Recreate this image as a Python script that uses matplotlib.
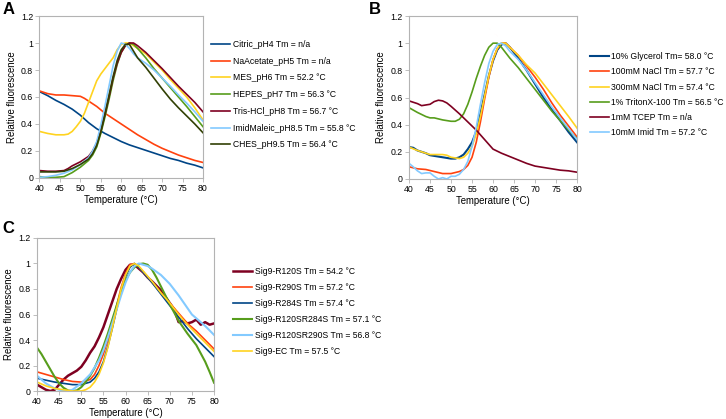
#!/usr/bin/python3

import matplotlib
matplotlib.use("Agg")
import matplotlib.pyplot as plt

plt.rcParams['font.family'] = ['Liberation Sans', 'DejaVu Sans']

# LibreOffice default chart colours
NAVY = "#004586"
RED = "#ff420e"
YELLOW = "#ffd320"
GREEN = "#579d1c"
MAROON = "#7e0021"
SKY = "#83caff"
OLIVE = "#314004"

# ---------------- panel A: buffer pH screen ----------------
citric_t = [40, 42, 44, 46, 48, 50, 52, 54, 56, 58, 60, 62, 64, 66, 68, 70, 72, 74, 76, 78, 80]
citric_f = [0.64, 0.61, 0.575, 0.545, 0.51, 0.465, 0.41, 0.365, 0.33, 0.30, 0.27, 0.245,
            0.225, 0.205, 0.185, 0.165, 0.145, 0.13, 0.11, 0.095, 0.075]

acetate_t = [40, 42, 44, 46, 48, 50, 51, 52, 54, 56, 58, 60, 62, 64, 66, 68, 70, 72, 74, 76, 78, 80]
acetate_f = [0.645, 0.625, 0.615, 0.615, 0.61, 0.605, 0.59, 0.57, 0.53, 0.48, 0.44, 0.40,
             0.36, 0.32, 0.285, 0.25, 0.22, 0.195, 0.17, 0.15, 0.13, 0.115]

mes_t = [40, 42, 44, 46, 47, 48, 49, 50, 51, 52, 53, 54, 55, 56, 57, 58, 59, 60, 61, 62,
         63, 64, 66, 68, 70, 72, 74, 76, 78, 80]
mes_f = [0.345, 0.33, 0.32, 0.32, 0.325, 0.345, 0.38, 0.42, 0.48, 0.56, 0.64, 0.72, 0.77,
         0.81, 0.85, 0.89, 0.95, 0.99, 1.0, 1.0, 0.98, 0.96, 0.92, 0.86, 0.80, 0.73, 0.665,
         0.60, 0.52, 0.43]

hepes_t = [40, 42, 44, 46, 48, 50, 52, 53, 54, 55, 56, 57, 58, 59, 60, 61, 62, 63, 64,
           66, 68, 70, 72, 74, 76, 78, 80]
hepes_f = [0.01, 0.005, 0.005, 0.01, 0.04, 0.08, 0.13, 0.17, 0.23, 0.33, 0.45, 0.58, 0.72,
           0.84, 0.93, 0.98, 1.0, 0.99, 0.96, 0.89, 0.81, 0.74, 0.67, 0.60, 0.53, 0.455, 0.38]

tris_t = [40, 42, 44, 46, 47, 48, 50, 52, 53, 54, 55, 56, 57, 58, 59, 60, 61, 62, 63, 64,
          66, 68, 70, 72, 74, 76, 78, 80]
tris_f = [0.055, 0.05, 0.05, 0.055, 0.07, 0.09, 0.12, 0.16, 0.20, 0.26, 0.35, 0.47, 0.60,
          0.74, 0.85, 0.93, 0.98, 1.0, 1.0, 0.98, 0.93, 0.87, 0.81, 0.745, 0.68, 0.62, 0.56, 0.49]

imidm_t = [40, 42, 44, 46, 48, 50, 52, 53, 54, 55, 56, 57, 58, 59, 60, 61, 62, 63, 64,
           66, 68, 70, 72, 74, 76, 78, 80]
imidm_f = [0.005, 0.01, 0.02, 0.035, 0.06, 0.10, 0.15, 0.20, 0.27, 0.39, 0.53, 0.68, 0.83,
           0.94, 1.0, 0.99, 0.96, 0.92, 0.89, 0.85, 0.80, 0.74, 0.68, 0.615, 0.555, 0.49, 0.42]

ches_t = [40, 42, 44, 46, 48, 50, 52, 53, 54, 55, 56, 57, 58, 59, 60, 61, 62, 63, 64,
          66, 68, 70, 72, 74, 76, 78, 80]
ches_f = [0.045, 0.045, 0.045, 0.05, 0.07, 0.10, 0.14, 0.18, 0.24, 0.34, 0.47, 0.61, 0.75,
          0.87, 0.95, 0.99, 0.99, 0.94, 0.89, 0.82, 0.74, 0.66, 0.585, 0.52, 0.46, 0.40, 0.335]

# ---------------- panel B: additive screen ----------------
glycerol_t = [40, 41, 42, 44, 45, 46, 48, 50, 51, 52, 53, 54, 55, 56, 57, 58, 59, 60, 61,
              62, 63, 64, 66, 68, 70, 72, 74, 76, 78, 80]
glycerol_f = [0.235, 0.23, 0.21, 0.19, 0.175, 0.17, 0.16, 0.15, 0.15, 0.16, 0.18, 0.22,
              0.27, 0.35, 0.48, 0.62, 0.76, 0.87, 0.95, 0.99, 1.0, 0.97, 0.89, 0.80, 0.70,
              0.60, 0.51, 0.43, 0.345, 0.27]

nacl100_t = [40, 42, 44, 46, 48, 50, 52, 53, 54, 55, 56, 57, 58, 59, 60, 61, 62, 63, 64,
             66, 68, 70, 72, 74, 76, 78, 80]
nacl100_f = [0.09, 0.075, 0.07, 0.055, 0.04, 0.04, 0.055, 0.07, 0.10, 0.16, 0.27, 0.42,
             0.59, 0.75, 0.88, 0.96, 1.0, 1.0, 0.97, 0.91, 0.83, 0.75, 0.66, 0.56, 0.47, 0.39, 0.31]

nacl300_t = [40, 42, 44, 45, 46, 48, 49, 50, 52, 53, 54, 55, 56, 57, 58, 59, 60, 61, 62,
             63, 64, 66, 68, 70, 71, 72, 74, 76, 78, 80]
nacl300_f = [0.235, 0.21, 0.19, 0.18, 0.18, 0.18, 0.175, 0.16, 0.15, 0.16, 0.19, 0.24,
             0.33, 0.46, 0.61, 0.76, 0.88, 0.96, 1.0, 1.0, 0.97, 0.91, 0.84, 0.78, 0.74,
             0.70, 0.62, 0.54, 0.46, 0.375]

triton_t = [40, 42, 44, 45, 46, 48, 50, 51, 52, 53, 54, 55, 56, 57, 58, 59, 60, 61, 62,
            63, 64, 66, 68, 70, 72, 74, 76, 78, 80]
triton_f = [0.525, 0.49, 0.46, 0.45, 0.45, 0.435, 0.425, 0.425, 0.44, 0.48, 0.55, 0.64,
            0.74, 0.83, 0.91, 0.97, 1.0, 1.0, 0.97, 0.93, 0.89, 0.82, 0.74, 0.66, 0.58,
            0.50, 0.43, 0.36, 0.295]

tcep_t = [40, 42, 43, 44, 45, 46, 47, 48, 49, 50, 52, 54, 56, 58, 60, 62, 64, 66, 68, 70,
          72, 74, 76, 78, 80]
tcep_f = [0.575, 0.555, 0.54, 0.545, 0.55, 0.57, 0.58, 0.575, 0.56, 0.535, 0.48, 0.42,
          0.36, 0.29, 0.22, 0.19, 0.165, 0.14, 0.115, 0.095, 0.085, 0.075, 0.065, 0.06, 0.05]

imid_t = [40, 41, 42, 43, 44, 45, 46, 47, 48, 49, 50, 51, 52, 53, 54, 55, 56, 57, 58, 59,
          60, 61, 62, 63, 64, 66, 68, 70, 72, 74, 76, 78, 80]
imid_f = [0.115, 0.09, 0.06, 0.04, 0.045, 0.045, 0.02, 0.0, 0.01, 0.0, 0.02, 0.02, 0.035,
          0.07, 0.13, 0.24, 0.38, 0.55, 0.71, 0.85, 0.94, 0.99, 1.0, 0.98, 0.94, 0.88, 0.80,
          0.71, 0.62, 0.53, 0.45, 0.37, 0.29]

# ---------------- panel C: Sig9 mutants ----------------
r120s_t = [40, 41, 42, 43, 44, 45, 46, 47, 48, 49, 50, 51, 52, 53, 54, 55, 56, 57, 58, 59,
           60, 61, 62, 63, 64, 65, 66, 68, 70, 71, 72, 73, 74, 75, 76, 77, 78, 79, 80]
r120s_f = [0.05, 0.03, 0.01, 0.0, 0.01, 0.05, 0.09, 0.12, 0.14, 0.16, 0.19, 0.24, 0.30,
           0.35, 0.42, 0.50, 0.60, 0.70, 0.80, 0.88, 0.95, 0.99, 0.99, 0.96, 0.93, 0.89,
           0.86, 0.79, 0.69, 0.64, 0.54, 0.55, 0.53, 0.54, 0.56, 0.52, 0.54, 0.52, 0.53]

r290s_t = [40, 42, 44, 46, 48, 50, 52, 53, 54, 55, 56, 57, 58, 59, 60, 61, 62, 63, 64, 66,
           68, 70, 72, 74, 76, 78, 80]
r290s_f = [0.15, 0.13, 0.11, 0.09, 0.075, 0.07, 0.09, 0.13, 0.20, 0.29, 0.40, 0.53, 0.67,
           0.81, 0.92, 0.99, 1.0, 0.97, 0.93, 0.85, 0.77, 0.69, 0.61, 0.53, 0.47, 0.40, 0.33]

r284s_t = [40, 42, 44, 46, 48, 50, 52, 53, 54, 55, 56, 57, 58, 59, 60, 61, 62, 63, 64, 66,
           68, 70, 72, 74, 76, 78, 80]
r284s_f = [0.10, 0.085, 0.07, 0.06, 0.05, 0.05, 0.07, 0.10, 0.15, 0.23, 0.35, 0.49, 0.64,
           0.78, 0.90, 0.97, 1.0, 0.97, 0.93, 0.85, 0.76, 0.67, 0.58, 0.49, 0.41, 0.34, 0.27]

r120sr284s_t = [40, 41, 42, 43, 44, 45, 46, 47, 48, 49, 50, 51, 52, 53, 54, 55, 56, 57, 58,
                59, 60, 61, 62, 63, 64, 65, 66, 67, 68, 69, 70, 72, 74, 76, 78, 79, 80]
r120sr284s_f = [0.34, 0.29, 0.23, 0.17, 0.11, 0.06, 0.025, 0.005, 0.0, 0.005, 0.03, 0.07,
                0.12, 0.18, 0.26, 0.35, 0.45, 0.56, 0.67, 0.78, 0.87, 0.93, 0.97, 0.995, 1.0,
                0.99, 0.95, 0.89, 0.82, 0.75, 0.68, 0.55, 0.45, 0.36, 0.23, 0.15, 0.065]

r120sr290s_t = [40, 42, 44, 46, 47, 48, 50, 52, 54, 55, 56, 57, 58, 59, 60, 61, 62, 63, 64,
                65, 66, 68, 70, 72, 74, 75, 76, 78, 80]
r120sr290s_f = [0.12, 0.06, 0.02, 0.0, 0.0, 0.01, 0.06, 0.13, 0.24, 0.32, 0.42, 0.53, 0.64,
                0.75, 0.85, 0.93, 0.98, 1.0, 0.99, 0.98, 0.96, 0.91, 0.84, 0.75, 0.65, 0.60,
                0.57, 0.51, 0.44]

ec_t = [40, 42, 44, 46, 48, 50, 51, 52, 53, 54, 55, 56, 57, 58, 59, 60, 61, 62, 63, 64, 66,
        68, 70, 72, 74, 76, 78, 80]
ec_f = [0.07, 0.04, 0.02, 0.01, 0.0, 0.0, 0.01, 0.03, 0.07, 0.13, 0.22, 0.34, 0.49, 0.65,
        0.80, 0.91, 0.98, 1.0, 0.98, 0.94, 0.86, 0.77, 0.69, 0.60, 0.52, 0.45, 0.38, 0.31]

x_ticks = [40, 45, 50, 55, 60, 65, 70, 75, 80]
y_ticks = [0, 0.2, 0.4, 0.6, 0.8, 1.0, 1.2]
y_tick_labels = ["0", "0.2", "0.4", "0.6", "0.8", "1", "1.2"]


def style_axes(ax):
    ax.set_xlim(40, 80)
    ax.set_ylim(0, 1.2)
    ax.set_xticks(x_ticks)
    ax.set_yticks(y_ticks)
    ax.set_yticklabels(y_tick_labels)
    for s in ax.spines.values():
        s.set_color("#b3b3b3")
        s.set_linewidth(0.8)
    ax.tick_params(direction="out", length=3, width=0.6, color="#b3b3b3",
                   labelsize=6.3, pad=1.5)
    ax.set_xlabel("Temperature (°C)", fontsize=6.9, labelpad=1)
    ax.set_ylabel("Relative fluorescence", fontsize=6.9, labelpad=3)


fig = plt.figure(figsize=(7.26, 4.19), dpi=100)

# panel A
axA = fig.add_axes([0.0544, 0.5752, 0.2252, 0.3866])
axA.plot(citric_t, citric_f, color=NAVY, lw=1.2, label="Citric_pH4 Tm = n/a")
axA.plot(acetate_t, acetate_f, color=RED, lw=1.2, label="NaAcetate_pH5 Tm = n/a")
axA.plot(mes_t, mes_f, color=YELLOW, lw=1.2, label="MES_pH6 Tm = 52.2 °C")
axA.plot(hepes_t, hepes_f, color=GREEN, lw=1.2, label="HEPES_pH7 Tm = 56.3 °C")
axA.plot(tris_t, tris_f, color=MAROON, lw=1.2, label="Tris-HCl_pH8 Tm = 56.7 °C")
axA.plot(imidm_t, imidm_f, color=SKY, lw=1.2, label="ImidMaleic_pH8.5 Tm = 55.8 °C")
axA.plot(ches_t, ches_f, color=OLIVE, lw=1.2, label="CHES_pH9.5 Tm = 56.4 °C")
style_axes(axA)
axA.legend(loc="center left", bbox_to_anchor=(0.290, 0.774), bbox_transform=fig.transFigure,
           frameon=False, fontsize=6.2, handlelength=2.3, handletextpad=0.3,
           labelspacing=0.9, borderpad=0, borderaxespad=0)

# panel B
axB = fig.add_axes([0.5634, 0.5728, 0.2314, 0.389])
axB.plot(glycerol_t, glycerol_f, color=NAVY, lw=1.5, label="10% Glycerol Tm= 58.0 °C")
axB.plot(nacl100_t, nacl100_f, color=RED, lw=1.2, label="100mM NaCl Tm = 57.7 °C")
axB.plot(nacl300_t, nacl300_f, color=YELLOW, lw=1.2, label="300mM NaCl Tm = 57.4 °C")
axB.plot(triton_t, triton_f, color=GREEN, lw=1.2, label="1% TritonX-100 Tm = 56.5 °C")
axB.plot(tcep_t, tcep_f, color=MAROON, lw=1.2, label="1mM TCEP Tm = n/a")
axB.plot(imid_t, imid_f, color=SKY, lw=1.2, label="10mM Imid Tm = 57.2 °C")
style_axes(axB)
axB.legend(loc="center left", bbox_to_anchor=(0.8125, 0.774), bbox_transform=fig.transFigure,
           frameon=False, fontsize=6.2, handlelength=2.2, handletextpad=0.3,
           labelspacing=0.72, borderpad=0, borderaxespad=0)

# panel C
axC = fig.add_axes([0.051, 0.0668, 0.2438, 0.3652])
axC.plot(r120s_t, r120s_f, color=MAROON, lw=1.8, label="Sig9-R120S Tm = 54.2 °C")
axC.plot(r290s_t, r290s_f, color=RED, lw=1.2, label="Sig9-R290S Tm = 57.2 °C")
axC.plot(r284s_t, r284s_f, color=NAVY, lw=1.2, label="Sig9-R284S Tm = 57.4 °C")
axC.plot(r120sr284s_t, r120sr284s_f, color=GREEN, lw=1.5, label="Sig9-R120SR284S Tm = 57.1 °C")
axC.plot(r120sr290s_t, r120sr290s_f, color=SKY, lw=1.5, label="Sig9-R120SR290S Tm = 56.8 °C")
axC.plot(ec_t, ec_f, color=YELLOW, lw=1.2, label="Sig9-EC Tm = 57.5 °C")
style_axes(axC)
axC.legend(loc="center left", bbox_to_anchor=(0.321, 0.2565), bbox_transform=fig.transFigure,
           frameon=False, fontsize=6.2, handlelength=2.2, handletextpad=0.3,
           labelspacing=0.8, borderpad=0, borderaxespad=0)

# panel letters
fig.text(0.003, 0.995, "A", fontsize=12, fontweight="bold", va="top", ha="left")
fig.text(0.508, 0.995, "B", fontsize=12, fontweight="bold", va="top", ha="left")
fig.text(0.003, 0.472, "C", fontsize=12, fontweight="bold", va="top", ha="left")

fig.savefig("out.png", dpi=100)
